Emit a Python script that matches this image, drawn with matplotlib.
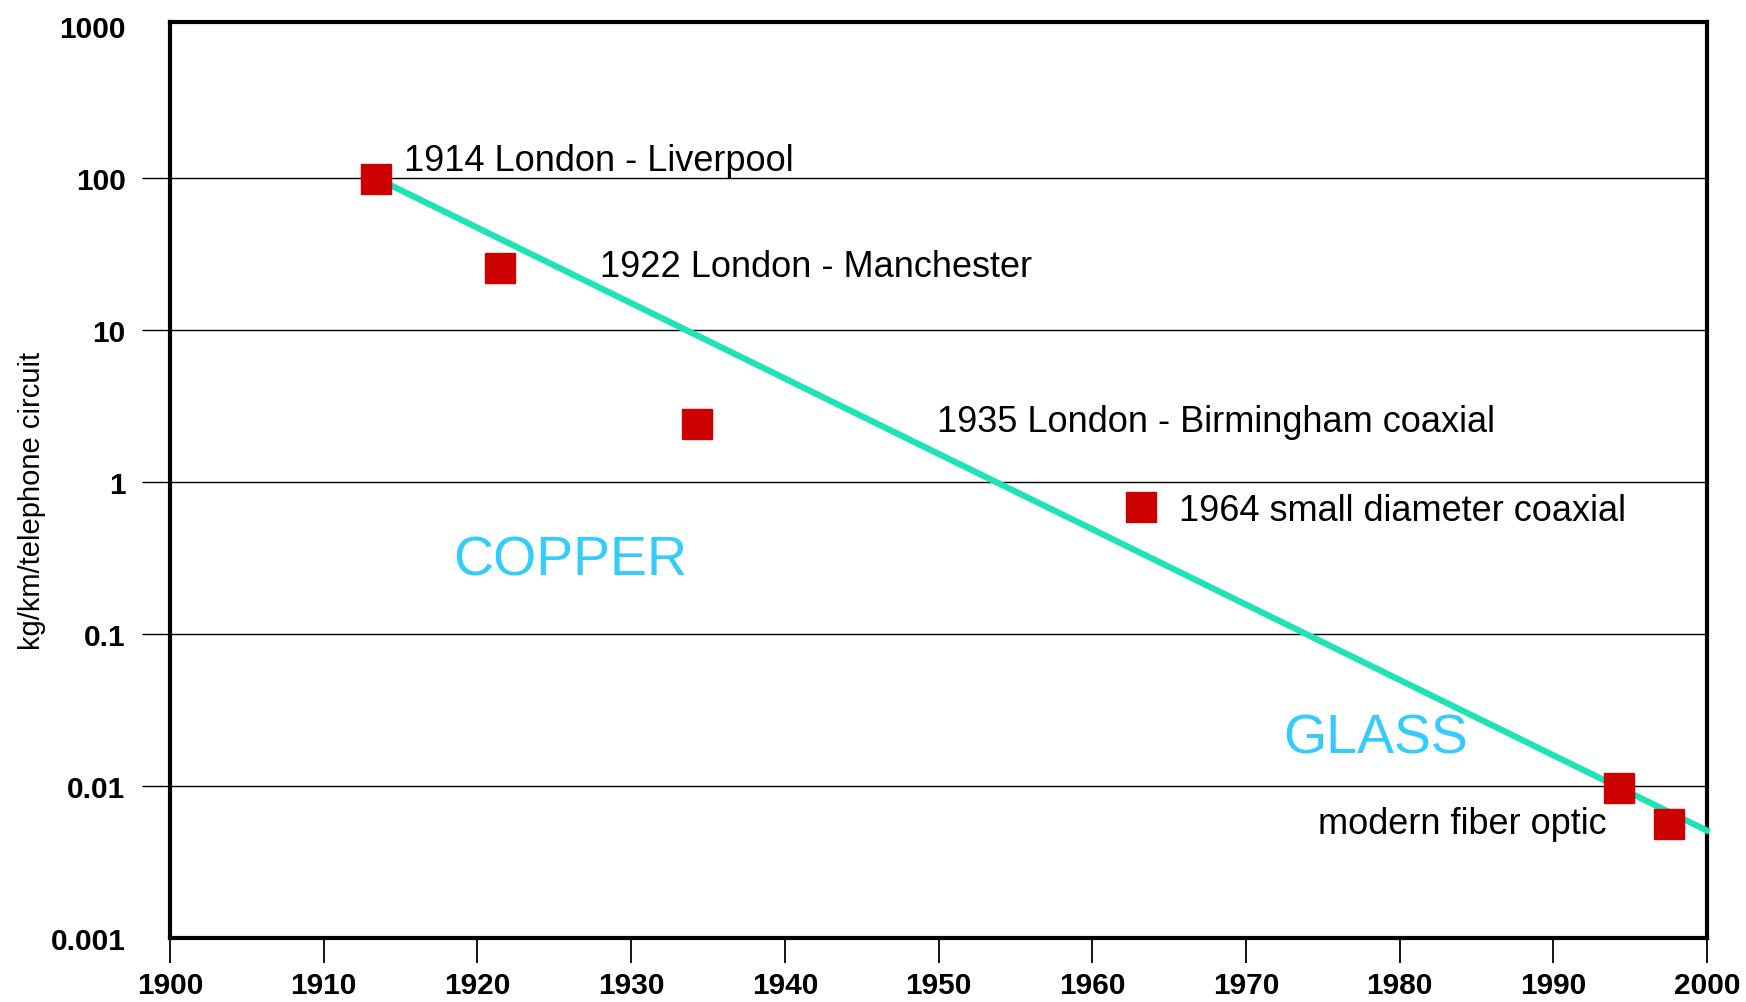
import matplotlib
matplotlib.use("Agg")
import matplotlib.pyplot as plt

plt.rcParams['font.family'] = ['Liberation Sans', 'DejaVu Sans']

# ---- data ----
years = [1913.4, 1921.45, 1934.3, 1963.2, 1994.3, 1997.5]
kg_per_km = [98, 25.5, 2.4, 0.68, 0.0097, 0.0056]

trend_years = [1913.4, 2000.15]
trend_vals = [100, 0.0050]

labels = ["1914 London - Liverpool", "1922 London - Manchester",
          "1935 London - Birmingham coaxial", "1964 small diameter coaxial",
          "modern fiber optic"]
label_x = [1915.2, 1928.0, 1949.9, 1965.65, 1974.7]
label_y = [113, 22.5, 2.17, 0.56, 0.0049]

region_names = ["COPPER", "GLASS"]
region_x = [1918.4, 1972.4]
region_y = [0.245, 0.0165]

xticks = [1900, 1910, 1920, 1930, 1940, 1950, 1960, 1970, 1980, 1990, 2000]
yticks = [0.001, 0.01, 0.1, 1, 10, 100, 1000]
ytick_labels = ["0.001", "0.01", "0.1", "1", "10", "100", "1000"]
grid_vals = [0.01, 0.1, 1, 10, 100]

# ---- figure ----
fig = plt.figure(figsize=(17.46, 10.03), dpi=100)
ax = fig.add_axes([0.0974, 0.0638, 0.9777 - 0.0974, 0.977 - 0.0638])

ax.set_yscale('log')
ax.set_xlim(1900, 2000)
ax.set_ylim(0.001, 1062)

# grid lines extending left of the axis
ax.hlines(grid_vals, -0.018, 1, transform=ax.get_yaxis_transform(),
          colors='black', linewidth=1.0, clip_on=False, zorder=1)

ax.plot(trend_years, trend_vals, color='#1DE3B6', linewidth=4.5,
        solid_capstyle='butt', clip_on=False, zorder=3)
ax.plot(years, kg_per_km, linestyle='none', marker='s', markersize=22,
        markerfacecolor='#CC0000', markeredgecolor='#CC0000', zorder=4)

for t, x, y in zip(labels, label_x, label_y):
    ax.text(x, y, t, fontsize=26, color='black', ha='left', va='baseline')

for t, x, y in zip(region_names, region_x, region_y):
    ax.text(x, y, t, fontsize=40, color='#33CCFF', ha='left', va='baseline')

ax.set_xticks(xticks)
ax.set_xticklabels([str(v) for v in xticks], fontsize=21.5, fontweight='bold')
ax.set_yticks(yticks)
ax.set_yticklabels(ytick_labels, fontsize=21.5, fontweight='bold')
ax.yaxis.set_minor_locator(matplotlib.ticker.NullLocator())
ax.tick_params(axis='y', length=0, pad=32)
ax.tick_params(axis='x', direction='out', length=18, width=1.3, pad=6)

for s in ax.spines.values():
    s.set_linewidth(3)
    s.set_color('black')

ax.set_ylabel("kg/km/telephone circuit", fontsize=21)
ax.yaxis.set_label_coords(-0.081, 0.478)

fig.savefig("out.png", dpi=100)
